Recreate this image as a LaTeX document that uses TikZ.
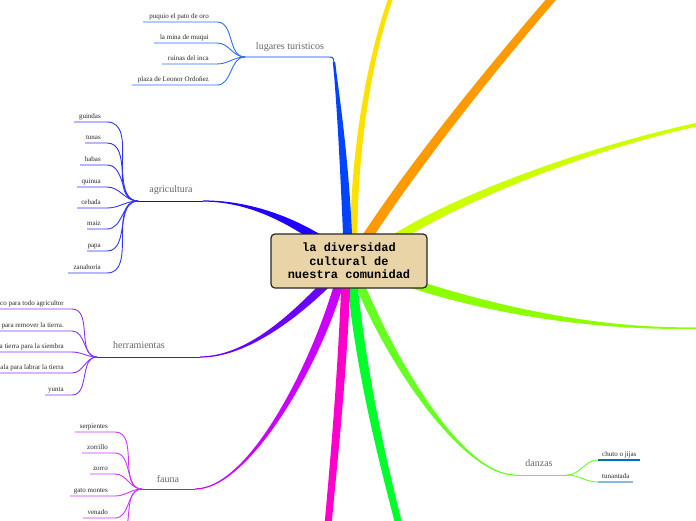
\documentclass[tikz,border=0pt]{standalone}
\usepackage{fontspec}
\setmainfont{Liberation Serif}
\newfontfamily\monof{Liberation Mono}
\usetikzlibrary{calc}
\definecolor{boxcol}{HTML}{E9D4A7}
\definecolor{cLug}{HTML}{0044FF}
\definecolor{cLugL}{HTML}{2C6BFF}
\definecolor{cYel}{HTML}{FFE100}
\definecolor{cOra}{HTML}{FF9A00}
\definecolor{cYG}{HTML}{CCFF00}
\definecolor{cRG}{HTML}{8CFF00}
\definecolor{cDan}{HTML}{66FF22}
\definecolor{cGrn}{HTML}{00FF2A}
\definecolor{cMag}{HTML}{FF00CC}
\definecolor{cPur}{HTML}{CC00FF}
\definecolor{cPurL}{HTML}{CC33FF}
\definecolor{cVio}{HTML}{6A00FF}
\definecolor{cVioL}{HTML}{8833FF}
\definecolor{cAgr}{HTML}{2000FF}
\definecolor{cAgrL}{HTML}{3333FF}
\definecolor{cChu}{HTML}{0070C0}
\definecolor{cTun}{HTML}{88BBE0}
% color, start, control1, control2, end, half width start, half width end
\newcommand\branch[7]{%
 \fill[#1] ($(#2)!#6!90:(#3)$) .. controls ($(#3)!#6!-90:(#2)$) and ($(#4)!#7!90:(#5)$) .. ($(#5)!#7!-90:(#4)$)
   -- ($(#5)!#7!90:(#4)$) .. controls ($(#4)!#7!-90:(#5)$) and ($(#3)!#6!90:(#2)$) .. ($(#2)!#6!-90:(#3)$) -- cycle;}
\tikzset{
 leaf/.style={font=\fontsize{7}{8}\selectfont, text=black!85, inner sep=0pt},
 cat/.style={font=\fontsize{10}{12}\selectfont, text=black!60, inner sep=0pt},
 thinline/.style={line width=0.9pt},
 rootbox/.style={draw=black!85, line width=1.2pt, fill=boxcol, rounded corners=4pt,
   minimum width=156pt, minimum height=54pt, align=center, inner sep=0pt,
   font=\monof\bfseries\fontsize{12}{13.5}\selectfont},
}
\begin{document}
\begin{tikzpicture}[x=1pt,y=-1pt]
\useasboundingbox (0,0) rectangle (696,520);
\clip (0,0) rectangle (696,520);
% ---------- coordinates of main branches ----------
\coordinate (s1) at (348,245); \coordinate (a1) at (344,150); \coordinate (b1) at (337,90); \coordinate (e1) at (334,62);
\coordinate (s2) at (354,245); \coordinate (a2) at (353,160); \coordinate (b2) at (368,60); \coordinate (e2) at (392,-5);
\coordinate (s3) at (362,245); \coordinate (a3) at (410,170); \coordinate (b3) at (490,70); \coordinate (e3) at (555,-5);
\coordinate (s4) at (385,245); \coordinate (a4) at (460,195); \coordinate (b4) at (600,145); \coordinate (e4) at (700,124);
\coordinate (s5) at (410,283); \coordinate (a5) at (500,312); \coordinate (b5) at (600,330); \coordinate (e5) at (700,328);
\coordinate (s6) at (358,280); \coordinate (a6) at (395,370); \coordinate (b6) at (465,475); \coordinate (e6) at (515,475);
\coordinate (s7) at (352,280); \coordinate (a7) at (362,380); \coordinate (b7) at (385,470); \coordinate (e7) at (399,525);
\coordinate (s8) at (346,280); \coordinate (a8) at (342,380); \coordinate (b8) at (333,470); \coordinate (e8) at (328,525);
\coordinate (s9) at (340,280); \coordinate (a9) at (318,360); \coordinate (b9) at (250,489); \coordinate (e9) at (195,489);
\coordinate (s10) at (335,275); \coordinate (a10) at (310,300); \coordinate (b10) at (255,357); \coordinate (e10) at (200,357);
\coordinate (s11) at (335,250); \coordinate (a11) at (300,225); \coordinate (b11) at (255,201); \coordinate (e11) at (203,201);
% hubs
\coordinate (hL) at (245,57);
\coordinate (hA) at (138,201);
\coordinate (hH) at (97,357);
\coordinate (hF) at (142,489);
\coordinate (hD) at (567,475);
\coordinate (k1) at (333,57); \coordinate (k2) at (328,57);
% ---------- main branches ----------
\branch{cYel}{s2}{a2}{b2}{e2}{3.5pt}{2.3pt}
\branch{cOra}{s3}{a3}{b3}{e3}{5pt}{4pt}
\branch{cYG}{s4}{a4}{b4}{e4}{4.5pt}{1.8pt}
\branch{cRG}{s5}{a5}{b5}{e5}{4.5pt}{0.8pt}
\branch{cDan}{s6}{a6}{b6}{e6}{4.5pt}{0.6pt}
\branch{cGrn}{s7}{a7}{b7}{e7}{5pt}{3.5pt}
\branch{cMag}{s8}{a8}{b8}{e8}{4.5pt}{3.5pt}
\branch{cPur}{s9}{a9}{b9}{e9}{4.5pt}{0.6pt}
\branch{cVio}{s10}{a10}{b10}{e10}{4.5pt}{0.6pt}
\branch{cAgr}{s11}{a11}{b11}{e11}{5pt}{0.6pt}
\branch{cLug}{s1}{a1}{b1}{e1}{4.5pt}{1.2pt}
% thin category connectors
\draw[thinline, cLug] (e1) .. controls (k1) .. (k2) -- (hL);
\draw[thinline, cAgr] (e11) -- (hA);
\draw[thinline, cVio] (e10) -- (hH);
\draw[thinline, cPur] (e9) -- (hF);
\draw[thinline, cDan] (e6) -- (hD);
% ---------- category labels ----------
\node[cat] (tL) at (290,47) {lugares turisticos};
\node[cat] (tA) at (171,190) {agricultura};
\node[cat] (tH) at (139,345) {herramientas};
\node[cat] (tF) at (168,479) {fauna};
\node[cat] (tD) at (539,463) {danzas};
% ---------- leaves: lugares ----------
\foreach \t/\y/\xl [count=\i] in {puquio el pato de oro/22/143, la mina de muqui/43/154, ruinas del inca/64/162, plaza de Leonor Ordoñez/85/132}{
  \coordinate (lr\i) at (217,\y);
  \draw[thinline, cLugL] (hL) to[out=180,in=0] (lr\i) -- (\xl,\y) coordinate (ll\i);
  \node[leaf, anchor=base east] (lt\i) at (209,\y-4) {\t};
}
% ---------- leaves: agricultura ----------
\foreach \t/\y/\xl [count=\i] in {guindas/122/74, tunas/143/85, habas/165/80, quinua/187/77, cebada/208/77, maiz/229/87, papa/251/87, zanahoria/273/68}{
  \coordinate (ar\i) at (107,\y);
  \draw[thinline, cAgrL] (hA) to[out=180,in=0] (ar\i) -- (\xl,\y) coordinate (al\i);
  \node[leaf, anchor=base east] (at\i) at (101,\y-4) {\t};
}
% ---------- leaves: herramientas ----------
\foreach \t/\y/\xl [count=\i] in {co para todo agricultor/309/-2, para remover la tierra./331/-2, a tierra para la siembra/352/-2, ala para labrar la tierra/373/-2, yunta/395/45}{
  \coordinate (hr\i) at (72,\y);
  \draw[thinline, cVioL] (hH) to[out=180,in=0] (hr\i) -- (\xl,\y) coordinate (hl\i);
  \node[leaf, anchor=base east] (ht\i) at (64,\y-4) {\t};
}
% ---------- leaves: fauna ----------
\foreach \t/\y/\xl [count=\i] in {serpientes/432/75, zorrillo/453/82, zorro/474/90, gato montes/496/70, venado/518/83}{
  \coordinate (fr\i) at (115,\y);
  \draw[thinline, cPurL] (hF) to[out=180,in=0] (fr\i) -- (\xl,\y) coordinate (fl\i);
  \node[leaf, anchor=base east] (ft\i) at (108,\y-4) {\t};
}
\coordinate (fr6) at (115,540); \coordinate (fl6) at (80,540);
\draw[thinline, cPurL] (hF) to[out=180,in=0] (fr6) -- (fl6);
% ---------- leaves: danzas ----------
\coordinate (dr1) at (598,460); \coordinate (dl1) at (640,460);
\coordinate (dr2) at (598,482); \coordinate (dl2) at (633,482);
\draw[thinline, cDan] (hD) to[out=0,in=180] (dr1);
\draw[thinline, cDan] (hD) to[out=0,in=180] (dr2);
\draw[line width=1.2pt, cChu] (dr1) -- (dl1);
\draw[line width=1.8pt, cTun] (dr2) -- (dl2);
\node[leaf, anchor=base west] (dt1) at (602,456) {chuto o jijas};
\node[leaf, anchor=base west] (dt2) at (602,478) {tunantada};
% ---------- root ----------
\node[rootbox] (root) at (349,261) {la diversidad\\cultural de\\nuestra comunidad};
\end{tikzpicture}
\end{document}
